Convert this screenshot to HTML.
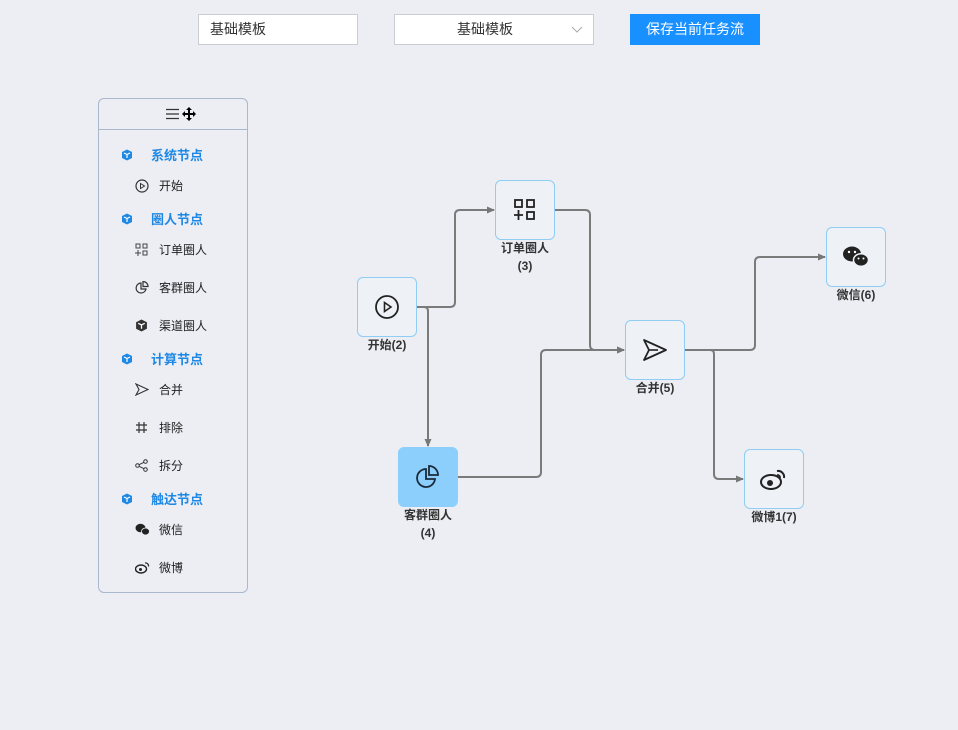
<!DOCTYPE html>
<html><head><meta charset="utf-8"><style>
*{box-sizing:border-box;margin:0;padding:0}
body{width:958px;height:730px;background:#eceef4;font-family:"Liberation Sans","Noto Sans CJK SC",sans-serif;position:relative;overflow:hidden;color:#333}
.a{position:absolute}
.inp{position:absolute;height:31px;border:1px solid #c8ccd4;background:#fff;font-size:14px;line-height:29px;color:#333}
.sb{position:absolute;left:98px;top:98px;width:150px;height:495px;border:1px solid #a9b8cc;border-radius:6px}
.g{position:absolute;left:52px;font-size:13px;font-weight:bold;color:#1e88e5}
.gi{position:absolute;left:22px;margin-top:2px}
.it{position:absolute;left:60px;font-size:12px;color:#222}
.ii{position:absolute;left:36px;margin-top:1px}
.node{position:absolute;width:60px;height:60px;border:1px solid #8fcdf5;border-radius:6px;background:#eef1f6;display:flex;align-items:center;justify-content:center}
.lbl{position:absolute;font-size:12px;font-weight:bold;color:#333;text-align:center;width:100px;line-height:18px}
</style></head><body>
<div class="inp" style="left:198px;top:14px;width:160px;padding-left:11px">基础模板</div>
<div class="inp" style="left:394px;top:14px;width:200px;padding-right:18px;text-align:center">基础模板<svg class="a" style="left:176px;top:11px" width="12" height="8"><path d="M1 1L6 6L11 1" fill="none" stroke="#aaa"/></svg></div>
<div class="a" style="left:630px;top:14px;width:130px;height:31px;background:#1890ff;color:#fff;font-size:14px;line-height:31px;text-align:center">保存当前任务流</div>

<div class="sb">
<div class="a" style="left:0;top:30px;width:148px;border-top:1px solid #a9b8cc"></div>
<svg class="a" style="left:67px;top:9px" width="14" height="12"><path d="M0 1.5H13M0 6H13M0 10.5H13" stroke="#333" stroke-width="1.3"/></svg>
<svg class="a" style="left:83px;top:8px" width="14" height="14"><path d="M7 0L10 3H8V6H11V4L14 7L11 10V8H8V11H10L7 14L4 11H6V8H3V10L0 7L3 4V6H6V3H4Z" fill="#000"/></svg>
<svg class="gi" style="top:48px" width="12" height="12" viewBox="0 0 12 12"><path d="M6 .5L11 3V9L6 11.5L1 9V3Z" fill="#1e88e5"/><path d="M3 4L6 5.5L9 4M6 5.5V9" stroke="#fff" stroke-width="1.2" fill="none"/></svg>
<div class="g" style="top:46px">系统节点</div>
<svg class="ii" style="top:79px" width="14" height="14"><circle cx="7" cy="7" r="6" fill="none" stroke="#333" stroke-width="1.2"/><path d="M5.5 4.5L9.5 7L5.5 9.5Z" fill="none" stroke="#333"/></svg>
<div class="it" style="top:78px">开始</div>
<svg class="gi" style="top:112px" width="12" height="12" viewBox="0 0 12 12"><path d="M6 .5L11 3V9L6 11.5L1 9V3Z" fill="#1e88e5"/><path d="M3 4L6 5.5L9 4M6 5.5V9" stroke="#fff" stroke-width="1.2" fill="none"/></svg>
<div class="g" style="top:110px">圈人节点</div>
<svg class="ii" style="top:143px" width="13" height="13"><rect x="1" y="1" width="4" height="4" fill="none" stroke="#444"/><rect x="8" y="1" width="4" height="4" fill="none" stroke="#444"/><rect x="8" y="8" width="4" height="4" fill="none" stroke="#444"/><path d="M3 7V13M0 10H6" stroke="#444"/></svg>
<div class="it" style="top:142px">订单圈人</div>
<svg class="ii" style="top:181px" width="14" height="14"><path d="M6 2A5 5 0 1 0 11 8H6Z" fill="none" stroke="#333" stroke-width="1.2"/><path d="M8 0.5A5 5 0 0 1 13 5.5H8Z" fill="none" stroke="#333" stroke-width="1.2"/></svg>
<div class="it" style="top:180px">客群圈人</div>
<svg class="ii" style="top:219px" width="13" height="13" viewBox="0 0 12 12"><path d="M6 .5L11 3V9L6 11.5L1 9V3Z" fill="#333"/><path d="M3 4L6 5.5L9 4M6 5.5V9" stroke="#fff" stroke-width="1.2" fill="none"/></svg>
<div class="it" style="top:218px">渠道圈人</div>
<svg class="gi" style="top:252px" width="12" height="12" viewBox="0 0 12 12"><path d="M6 .5L11 3V9L6 11.5L1 9V3Z" fill="#1e88e5"/><path d="M3 4L6 5.5L9 4M6 5.5V9" stroke="#fff" stroke-width="1.2" fill="none"/></svg>
<div class="g" style="top:250px">计算节点</div>
<svg class="ii" style="top:283px" width="14" height="13"><path d="M1 1L13 6.5L1 12L4 6.5Z" fill="none" stroke="#333" stroke-width="1.1"/></svg>
<div class="it" style="top:282px">合并</div>
<svg class="ii" style="top:321px" width="13" height="13"><path d="M4 1V12M9 1V12M1 4H12M1 9H12" stroke="#333" stroke-width="1.2"/></svg>
<div class="it" style="top:320px">排除</div>
<svg class="ii" style="top:359px" width="13" height="13"><circle cx="2.5" cy="6.5" r="1.8" fill="none" stroke="#333"/><circle cx="10.5" cy="2.5" r="1.8" fill="none" stroke="#333"/><circle cx="10.5" cy="10.5" r="1.8" fill="none" stroke="#333"/><path d="M4 5.7L9 3.3M4 7.3L9 9.7" stroke="#333"/></svg>
<div class="it" style="top:358px">拆分</div>
<svg class="gi" style="top:392px" width="12" height="12" viewBox="0 0 12 12"><path d="M6 .5L11 3V9L6 11.5L1 9V3Z" fill="#1e88e5"/><path d="M3 4L6 5.5L9 4M6 5.5V9" stroke="#fff" stroke-width="1.2" fill="none"/></svg>
<div class="g" style="top:390px">触达节点</div>
<svg class="ii" style="top:423px" width="15" height="13"><ellipse cx="5.5" cy="5" rx="5" ry="4.3" fill="#222"/><ellipse cx="10.5" cy="8.5" rx="4" ry="3.5" fill="#222" stroke="#eceef4" stroke-width="0.8"/></svg>
<div class="it" style="top:422px">微信</div>
<svg class="ii" style="top:461px" width="15" height="13"><ellipse cx="6" cy="8" rx="5.5" ry="4" fill="none" stroke="#222" stroke-width="1.4"/><circle cx="5.5" cy="8.5" r="1.5" fill="#222"/><path d="M10 2A3 3 0 0 1 13.5 5.5" stroke="#222" fill="none" stroke-width="1.2"/></svg>
<div class="it" style="top:460px">微博</div>
</div>

<svg class="a" style="left:0;top:0" width="958" height="730">
<defs><marker id="m" markerWidth="8" markerHeight="8" refX="7" refY="4" orient="auto" markerUnits="userSpaceOnUse"><path d="M0 0.5L8 4L0 7.5Z" fill="#777"/></marker></defs>
<g fill="none" stroke="#7a7a7a" stroke-width="2">
<path d="M417 307H450Q455 307 455 302V215Q455 210 460 210H494" marker-end="url(#m)"/>
<path d="M417 307H424Q428 307 428 311V446" marker-end="url(#m)"/>
<path d="M555 210H585Q590 210 590 215V345Q590 350 595 350H624" marker-end="url(#m)"/>
<path d="M458 477H536Q541 477 541 472V355Q541 350 546 350H624" marker-end="url(#m)"/>
<path d="M685 350H750Q755 350 755 345V262Q755 257 760 257H825" marker-end="url(#m)"/>
<path d="M685 350H710Q714 350 714 354V474Q714 479 719 479H743" marker-end="url(#m)"/>
</g></svg>

<div class="node" style="left:357px;top:277px"><svg width="26" height="26"><circle cx="13" cy="13" r="11" fill="none" stroke="#222" stroke-width="1.8"/><path d="M10.5 8.5L17 13L10.5 17.5Z" fill="none" stroke="#222" stroke-width="1.6"/></svg></div>
<div class="lbl" style="left:337px;top:336px">开始(2)</div>
<div class="node" style="left:495px;top:180px"><svg width="24" height="24"><rect x="2" y="2" width="7" height="7" fill="none" stroke="#222" stroke-width="1.8"/><rect x="14" y="2" width="7" height="7" fill="none" stroke="#222" stroke-width="1.8"/><rect x="14" y="14" width="7" height="7" fill="none" stroke="#222" stroke-width="1.8"/><path d="M5.5 12V22M1 17H10" stroke="#222" stroke-width="1.8"/></svg></div>
<div class="lbl" style="left:475px;top:239px">订单圈人<br>(3)</div>
<div class="node" style="left:398px;top:447px;background:#8ccffd;border-color:#8ccffd"><svg width="26" height="26"><path d="M11 5A9 9 0 1 0 20 15H11Z" fill="none" stroke="#1a2a3a" stroke-width="1.8"/><path d="M14 2A9 9 0 0 1 23 11H14Z" fill="none" stroke="#1a2a3a" stroke-width="1.8"/></svg></div>
<div class="lbl" style="left:378px;top:506px">客群圈人<br>(4)</div>
<div class="node" style="left:625px;top:320px"><svg width="26" height="24"><path d="M2 2L24 12L2 22L7 12Z" fill="none" stroke="#222" stroke-width="1.8" stroke-linejoin="round"/><path d="M7 12H16" stroke="#222" stroke-width="1.6"/></svg></div>
<div class="lbl" style="left:605px;top:379px">合并(5)</div>
<div class="node" style="left:826px;top:227px"><svg width="28" height="24"><ellipse cx="10" cy="9" rx="9" ry="7.5" fill="#222"/><ellipse cx="19" cy="15" rx="7.5" ry="6.3" fill="#222" stroke="#eef1f6" stroke-width="1.5"/><circle cx="7" cy="7" r="1.2" fill="#fff"/><circle cx="13" cy="7" r="1.2" fill="#fff"/><circle cx="16.5" cy="13.5" r="1" fill="#fff"/><circle cx="21.5" cy="13.5" r="1" fill="#fff"/></svg></div>
<div class="lbl" style="left:806px;top:286px">微信(6)</div>
<div class="node" style="left:744px;top:449px"><svg width="28" height="24"><ellipse cx="11" cy="15" rx="10" ry="7" fill="none" stroke="#222" stroke-width="2"/><circle cx="10" cy="16" r="3" fill="#222"/><path d="M17 4A6 6 0 0 1 24 11" stroke="#222" stroke-width="2" fill="none"/><path d="M17 8A2.5 2.5 0 0 1 20 11" stroke="#222" stroke-width="1.6" fill="none"/></svg></div>
<div class="lbl" style="left:724px;top:508px">微博1(7)</div>
</body></html>
